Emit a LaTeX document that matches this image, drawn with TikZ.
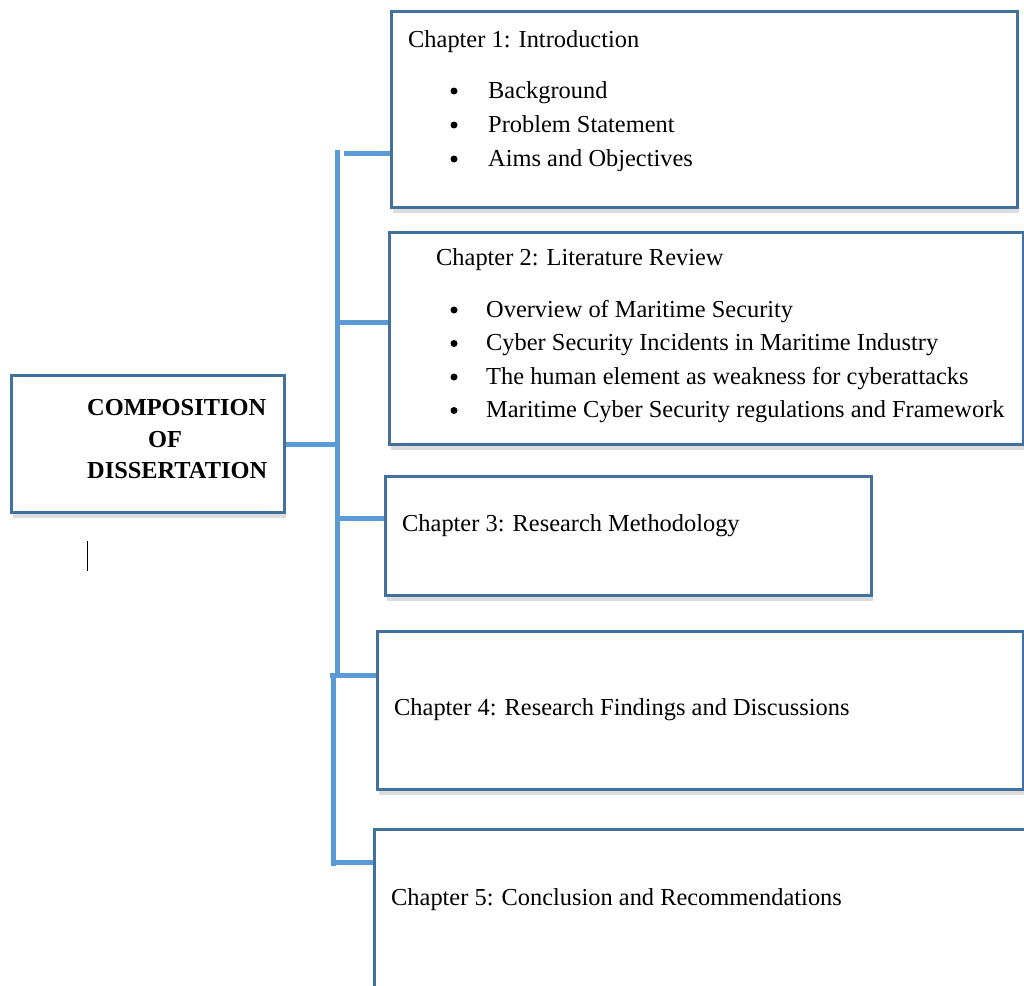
\documentclass[tikz,border=0pt]{standalone}
\usepackage{fontspec}
\setmainfont{Liberation Serif}
\usetikzlibrary{shadows}
\definecolor{boxblue}{HTML}{41719C}
\definecolor{linkblue}{HTML}{5B9BD5}
\begin{document}
\begin{tikzpicture}[x=1pt, y=-1pt,
  every node/.style={font=\fontsize{24.4}{34}\selectfont, inner sep=0pt},
  chapbox/.style={draw=boxblue, line width=3pt, fill=white, anchor=north west,
    drop shadow={opacity=0.28, shadow xshift=1pt, shadow yshift=-5pt}},
  link/.style={linkblue, line width=5pt},
  item/.style={anchor=base west},
  dot/.style={circle, fill=black, minimum size=7pt}]
  \useasboundingbox (0,0) rectangle (1024,985);
  \clip (0,0) rectangle (1024,985);
  % Main box
  \node[chapbox, minimum width=273, minimum height=137] (main) at (10,374) {};
  \node[item, font=\bfseries\fontsize{24.4}{31}\selectfont] (title1) at (87,415) {COMPOSITION};
  \node[item, font=\bfseries\fontsize{24.4}{31}\selectfont] (title2) at (148,447) {OF};
  \node[item, font=\bfseries\fontsize{24.4}{31}\selectfont] (title3) at (87,478) {DISSERTATION};
  \coordinate (cursor) at (87,541);
  \draw[thin] (cursor) -- ++(0,30);
  % Chapter boxes
  \node[chapbox, minimum width=626, minimum height=196] (ch1) at (390,10) {};
  \node[chapbox, minimum width=634, minimum height=212] (ch2) at (388,231) {};
  \node[chapbox, minimum width=486, minimum height=119] (ch3) at (384,475) {};
  \node[chapbox, minimum width=646, minimum height=158] (ch4) at (376,630) {};
  \node[chapbox, minimum width=680, minimum height=190] (ch5) at (373,828) {};
  % Chapter 1
  \node[item] (head1) at (408,47) {Chapter 1: Introduction};
  \foreach \txt [count=\i] in {Background, Problem Statement, Aims and Objectives} {
    \node[dot] (dot1\i) at (454,57+34*\i) {};
    \node[item] (item1\i) at (488,64+34*\i) {\txt};
  }
  % Chapter 2
  \node[item] (head2) at (436,265) {Chapter 2: Literature Review};
  \foreach \txt [count=\i] in {Overview of Maritime Security,
      Cyber Security Incidents in Maritime Industry,
      The human element as weakness for cyberattacks,
      Maritime Cyber Security regulations and Framework} {
    \node[dot] (dot2\i) at (454,276.5+33.5*\i) {};
    \node[item] (item2\i) at (486,283.5+33.5*\i) {\txt};
  }
  % Chapters 3 to 5
  \node[item] (head3) at (402,531) {Chapter 3: Research Methodology};
  \node[item] (head4) at (394,715) {Chapter 4: Research Findings and Discussions};
  \node[item] (head5) at (391,905) {Chapter 5: Conclusion and Recommendations};
  % Trunk
  \coordinate (top) at (337,150);
  \coordinate (mid) at (337,677);
  \coordinate (low) at (333,673);
  \coordinate (bot) at (333,866);
  \draw[link] (top) -- (mid);
  \draw[link] (low) -- (bot);
  % Branches
  \draw[link] (main.east) -- (main.east -| top);
  \coordinate (j1) at (344,153);
  \coordinate (j2) at (337,322);
  \coordinate (j3) at (337,518);
  \coordinate (j4) at (330,675);
  \coordinate (j5) at (333,862);
  \draw[link] (j1) -- (j1 -| ch1.west);
  \draw[link] (j2) -- (j2 -| ch2.west);
  \draw[link] (j3) -- (j3 -| ch3.west);
  \draw[link] (j4) -- (j4 -| ch4.west);
  \draw[link] (j5) -- (j5 -| ch5.west);
\end{tikzpicture}
\end{document}
